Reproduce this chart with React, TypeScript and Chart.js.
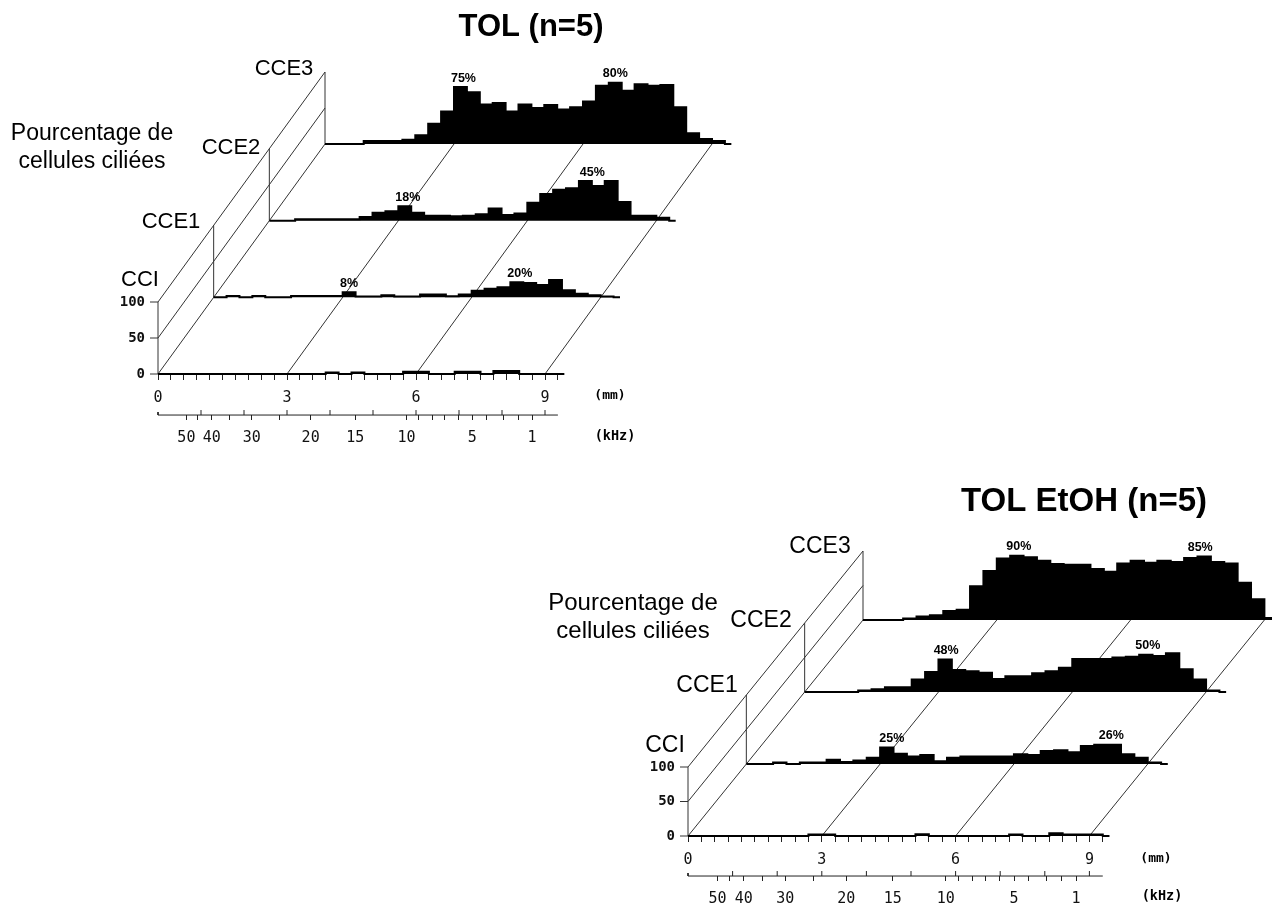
import React, { useEffect, useRef } from "react";
import { Chart, registerables } from "chart.js";

Chart.register(...registerables);

// Percentage of hair cells lost, one value per 0.3 mm bin along the cochlea
const tolCCI = [0,0,0,0,0,0,0,0,0,0,0,0,0,2,0,2,0,0,0,3,3,0,0,3,3,0,4,4,0,0,0];
const tolCCE1 = [0,2,0,2,0,0,2,2,2,2,7,1,1,3,1,1,4,4,1.5,4,9,12,14,21,20,17,24,10,5,3,1];
const tolCCE2 = [0,0,2,2,2,2,2,5,11,13,20,11,7,7,6,7,9,17,8,10,25,37,43,45,55,48,55,26,7,7,4];
const tolCCE3 = [0,0,0,4,4,4,6,12,28,45,79,72,55,57,45,55,50,54,48,51,59,81,85,74,83,81,82,51,15,7,4];
const etohCCI = [0,0,0,0,0,0,0,0,0,2,2,0,0,0,0,0,0,2.5,0,0,0,0,0,0,2,0,0,4,2,2,2];
const etohCCE1 = [0,0,2,0,2,2,6,3,5,9,24,15,11,13,4,9,11,11,11,11,14,13,19,20,17,26,28,28,14,9,2];
const etohCCE2 = [0,0,0,0,2,4,7,7,18,29,47,32,30,28,19,23,23,27,30,35,48,48,48,50,51,54,52,56,33,18,2];
const etohCCE3 = [0,0,0,2,5,7,13,15,49,71,89,93,91,86,81,80,80,74,70,82,86,83,86,84,90,92,84,82,54,30,3];

const rowLabels = ["CCI", "CCE1", "CCE2", "CCE3"];
const mmTicks = [0, 3, 6, 9];
const percentTicks = [0, 50, 100];
const khzLabels = ["50", "40", "30", "20", "15", "10", "5", "1"];
const khzLabelMm = [0.66, 1.25, 2.18, 3.55, 4.59, 5.78, 7.31, 8.7];
const khzMinorMm = [0.93, 1.66, 2.82, 6.06, 6.38, 6.66, 6.99, 7.64, 8.03, 8.38];
const yTitleLines = ["Pourcentage de", "cellules ciliées"];

const BIN = 0.3;
const BINS = 31;
const FONT = "Liberation Sans";
const MONO = "DejaVu Sans Mono";

const tolPeaks = [
  { row: 3, bin: 10, text: "75%", nudge: 3 }, { row: 3, bin: 22, text: "80%", nudge: 0 },
  { row: 2, bin: 10, text: "18%", nudge: 3 }, { row: 2, bin: 24, text: "45%", nudge: 7 },
  { row: 1, bin: 10, text: "8%", nudge: 0 }, { row: 1, bin: 23, text: "20%", nudge: 3 },
];
const etohPeaks = [
  { row: 3, bin: 11, text: "90%", nudge: 2 }, { row: 3, bin: 25, text: "85%", nudge: -4 },
  { row: 2, bin: 10, text: "48%", nudge: 1 }, { row: 2, bin: 25, text: "50%", nudge: 2 },
  { row: 1, bin: 10, text: "25%", nudge: 5 }, { row: 1, bin: 27, text: "26%", nudge: -3 },
];

const panels = [
  {
    title: "TOL (n=5)", titleAt: [531, 27], titleSize: 31, labelSize: 22, yTitleSize: 23,
    x0: 158, y0: 374, pxMm: 43, pxPct: 0.72,
    rows: [tolCCI, tolCCE1, tolCCE2, tolCCE3], peaks: tolPeaks,
    back: [325, 144],
    labelAt: [[140, 280], [171, 222], [231, 148], [284, 69]],
    yTitleAt: [92, 134, 162],
    mmAt: [610, 396], khzAt: [615, 436], khzLine: -57,
  },
  {
    title: "TOL EtOH (n=5)", titleAt: [1084, 502], titleSize: 33, labelSize: 23, yTitleSize: 24,
    x0: 688, y0: 836, pxMm: 44.6, pxPct: 0.69,
    rows: [etohCCI, etohCCE1, etohCCE2, etohCCE3], peaks: etohPeaks,
    back: [863, 620],
    labelAt: [[665, 746], [707, 686], [761, 621], [820, 547]],
    yTitleAt: [633, 603, 631],
    mmAt: [1156, 859], khzAt: [1162, 896], khzLine: -58,
  },
];

const W = 1272;
const H = 904;

function gapped(segs: number[][][]) {
  const out: any[] = [];
  segs.forEach((s) => {
    s.forEach(([x, y]) => out.push({ x, y }));
    out.push({ x: NaN, y: NaN });
  });
  return out;
}

const noPadding = (s: any) => {
  s.paddingTop = 0;
  s.paddingBottom = 0;
  s.paddingLeft = 0;
  s.paddingRight = 0;
};

function buildChart(canvas: HTMLCanvasElement, p: any) {
  const dx = (p.back[0] - p.x0) / 3 / p.pxMm;
  const dy = (p.y0 - p.back[1]) / 3 / p.pxPct;
  const tickPct = (px: number) => px / p.pxPct;

  const hist = p.rows.map((vals: number[], r: number) => {
    const ox = r * dx;
    const oy = r * dy;
    const pts: any[] = [];
    vals.forEach((v, i) => {
      pts.push({ x: ox + i * BIN, y: oy + v });
      pts.push({ x: ox + (i + 1) * BIN, y: oy + v });
    });
    pts.push({ x: ox + BINS * BIN, y: oy });
    pts.push({ x: ox + (BINS + 0.5) * BIN, y: oy });
    pts.unshift({ x: ox, y: oy });
    return {
      type: "line", data: pts, borderColor: "#000", borderWidth: 2, pointRadius: 0,
      backgroundColor: "#000", fill: { value: oy }, tension: 0,
    };
  });

  const rails: number[][][] = [];
  percentTicks.forEach((v) => rails.push([[0, v], [3 * dx, 3 * dy + v]]));
  mmTicks.slice(1).forEach((m) => rails.push([[m, 0], [m + 3 * dx, 3 * dy]]));
  [0, 1, 2, 3].forEach((r) => rails.push([[r * dx, r * dy], [r * dx, r * dy + 100]]));
  percentTicks.forEach((v) => rails.push([[-8 / p.pxMm, v], [0, v]]));

  const khzRule: number[][][] = [[[0, p.khzLine + tickPct(3)], [0, p.khzLine], [BINS * BIN, p.khzLine]]];
  [1, 2, 3, 4, 5, 6, 7, 8, 9].forEach((m) =>
    khzRule.push([[m, p.khzLine], [m, p.khzLine + tickPct(5)]]));

  const lineSet = (segs: number[][][], width: number, color: string) => ({
    type: "line", data: gapped(segs), borderColor: color, borderWidth: width,
    pointRadius: 0, fill: false, spanGaps: false, tension: 0,
  });

  const labelsPlugin = {
    id: "labels",
    afterDraw(chart: any) {
      const ctx = chart.ctx;
      const text = (s: string, x: number, y: number, font: string, align = "center") => {
        ctx.font = font;
        ctx.textAlign = align;
        ctx.textBaseline = "middle";
        ctx.fillStyle = "#000";
        ctx.fillText(s, x, y);
      };
      ctx.save();
      text(p.title, p.titleAt[0], p.titleAt[1], `bold ${p.titleSize}px "${FONT}"`);
      rowLabels.forEach((s, i) => text(s, p.labelAt[i][0], p.labelAt[i][1], `${p.labelSize}px "${FONT}"`));
      yTitleLines.forEach((s, i) => text(s, p.yTitleAt[0], p.yTitleAt[i + 1], `${p.yTitleSize}px "${FONT}"`));
      text("(mm)", p.mmAt[0], p.mmAt[1], `bold 13px "${MONO}"`);
      text("(kHz)", p.khzAt[0], p.khzAt[1], `bold 13.5px "${MONO}"`);
      p.peaks.forEach((k: any) => {
        const mm = k.row * dx + (k.bin + 0.5) * BIN;
        const pct = k.row * dy + p.rows[k.row][k.bin];
        text(
          k.text,
          chart.scales.x.getPixelForValue(mm) + k.nudge,
          chart.scales.y.getPixelForValue(pct) - 9,
          `bold 12.5px "${FONT}"`,
        );
      });
      ctx.restore();
    },
  };

  const xMin = -p.x0 / p.pxMm;
  const xMax = (W - p.x0) / p.pxMm;
  const yMax = p.y0 / p.pxPct;
  const yMin = -(H - p.y0) / p.pxPct;
  const setTicks = (vals: number[]) => (s: any) => {
    s.ticks = vals.map((value) => ({ value }));
  };
  const mmAll = Array.from({ length: BINS + 1 }, (_, i) => Math.round(i * BIN * 10) / 10);
  const khzAll = [...khzLabelMm, ...khzMinorMm].sort((a, b) => a - b);

  return new Chart(canvas, {
    type: "line",
    data: {
      datasets: [
        ...hist,
        lineSet(rails, 1, "#333"),
        lineSet(khzRule, 1, "#222"),
      ],
    },
    options: {
      responsive: false,
      animation: false,
      devicePixelRatio: 1,
      events: [],
      layout: { padding: 0 },
      plugins: { legend: { display: false }, tooltip: { enabled: false }, title: { display: false } },
      scales: {
        x: {
          type: "linear", min: xMin, max: xMax, position: { y: 0 },
          afterBuildTicks: setTicks(mmAll),
          afterFit: noPadding,
          border: { display: false },
          grid: { drawOnChartArea: false, drawTicks: true, tickLength: 6, tickColor: "#222", tickWidth: 1 },
          ticks: {
            autoSkip: false, maxRotation: 0, padding: 9, color: "#111",
            font: { family: MONO, size: 15 },
            callback: (v: any) => (mmTicks.includes(v) ? String(v) : ""),
          },
        },
        x2: {
          axis: "x", type: "linear", min: xMin, max: xMax, position: { y: p.khzLine },
          afterBuildTicks: setTicks(khzAll),
          afterFit: noPadding,
          border: { display: false },
          grid: { drawOnChartArea: false, drawTicks: true, tickLength: 5, tickColor: "#222", tickWidth: 1 },
          ticks: {
            autoSkip: false, maxRotation: 0, padding: 9, color: "#111",
            font: { family: MONO, size: 15 },
            callback: (v: any) => {
              const i = khzLabelMm.indexOf(v);
              return i >= 0 ? khzLabels[i] : "";
            },
          },
        },
        y: {
          type: "linear", min: yMin, max: yMax, position: { x: -13 / p.pxMm },
          afterBuildTicks: setTicks(percentTicks),
          afterFit: noPadding,
          border: { display: false },
          grid: { drawOnChartArea: false, drawTicks: false },
          ticks: {
            autoSkip: false, padding: 0, color: "#111",
            font: { family: MONO, size: 14, weight: "bold" },
            callback: (v: any) => String(v),
          },
        },
      },
    } as any,
    plugins: [labelsPlugin],
  } as any);
}

function Panel({ spec }: { spec: any }) {
  const ref = useRef<HTMLCanvasElement>(null);
  useEffect(() => {
    const chart = buildChart(ref.current as HTMLCanvasElement, spec);
    return () => chart.destroy();
  }, [spec]);
  return (
    <canvas
      ref={ref}
      width={W}
      height={H}
      style={{ position: "absolute", left: 0, top: 0, width: W, height: H, display: "block" }}
    />
  );
}

export default function App() {
  return (
    <div style={{ position: "absolute", left: 0, top: 0, width: W, height: H, background: "#fff", overflow: "hidden" }}>
      {panels.map((p) => (
        <Panel key={p.title} spec={p} />
      ))}
    </div>
  );
}
